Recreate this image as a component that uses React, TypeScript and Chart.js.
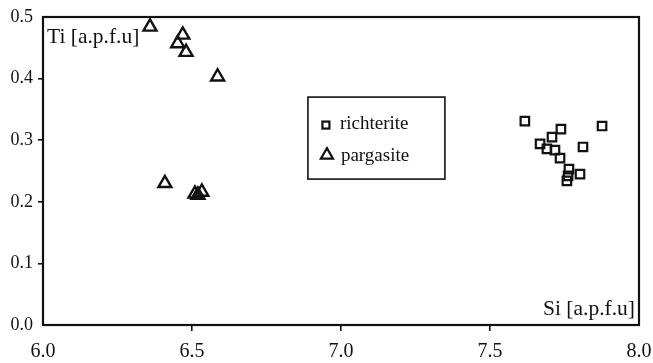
import React, { useEffect, useRef } from "react";
import { Chart, registerables } from "chart.js";

Chart.register(...registerables);

const richteriteSi = [7.617, 7.738, 7.708, 7.876, 7.668, 7.691, 7.718, 7.735, 7.812, 7.765, 7.802, 7.758, 7.762];
const richteriteTi = [0.331, 0.318, 0.305, 0.323, 0.294, 0.286, 0.284, 0.271, 0.289, 0.253, 0.245, 0.234, 0.242];

const pargasiteSi = [6.359, 6.469, 6.452, 6.48, 6.586, 6.409, 6.51, 6.533, 6.52];
const pargasiteTi = [0.484, 0.471, 0.457, 0.443, 0.403, 0.23, 0.213, 0.216, 0.211];

const xTicks = [6.0, 6.5, 7.0, 7.5, 8.0];
const yTicks = [0.0, 0.1, 0.2, 0.3, 0.4, 0.5];

const seriesNames = ["richterite", "pargasite"];
const xTitle = "Si [a.p.f.u]";
const yTitle = "Ti [a.p.f.u]";

const SERIF = '"Liberation Serif", "Times New Roman", serif';
const INK = "#111111";

function toPoints(xs: number[], ys: number[]) {
  return xs.map((x, i) => ({ x, y: ys[i] }));
}

const overlayPlugin = {
  id: "overlay",
  afterDraw(chart: any) {
    const ctx = chart.ctx;
    const a = chart.chartArea;
    ctx.save();
    // frame
    ctx.strokeStyle = INK;
    ctx.lineWidth = 2.2;
    ctx.strokeRect(a.left, a.top, a.right - a.left, a.bottom - a.top);

    // axis titles inside plot
    ctx.fillStyle = INK;
    ctx.font = `21.5px ${SERIF}`;
    ctx.textBaseline = "alphabetic";
    ctx.textAlign = "left";
    ctx.fillText(yTitle, a.left + 4, a.top + 26);
    ctx.textAlign = "right";
    ctx.fillText(xTitle, a.right - 4, a.bottom - 10);

    // legend box
    const xs = chart.scales.x;
    const ys = chart.scales.y;
    const bx = xs.getPixelForValue(6.889);
    const by = ys.getPixelForValue(0.37);
    const bw = 137;
    const bh = 82;
    ctx.lineWidth = 1.6;
    ctx.strokeStyle = INK;
    ctx.strokeRect(bx, by, bw, bh);

    ctx.font = `19px ${SERIF}`;
    ctx.textAlign = "left";
    // richterite marker
    ctx.lineWidth = 2.2;
    const s = 7;
    const mx = bx + 18;
    const my1 = by + 28;
    ctx.strokeRect(mx - s / 2, my1 - s / 2, s, s);
    ctx.fillText(seriesNames[0], bx + 32, by + 32);
    // pargasite marker
    const my2 = by + 58;
    const r = 7;
    ctx.beginPath();
    ctx.moveTo(mx + 1, my2 - r);
    ctx.lineTo(mx + 1 + r * 0.866, my2 + r * 0.5);
    ctx.lineTo(mx + 1 - r * 0.866, my2 + r * 0.5);
    ctx.closePath();
    ctx.stroke();
    ctx.fillText(seriesNames[1], bx + 33, by + 64);
    ctx.restore();
  },
};

export default function App() {
  const ref = useRef<HTMLCanvasElement>(null);
  useEffect(() => {
    if (!ref.current) return;
    const chart = new Chart(ref.current, {
      type: "scatter",
      data: {
        datasets: [
          {
            label: seriesNames[0],
            data: toPoints(richteriteSi, richteriteTi),
            pointStyle: "rect",
            pointRadius: 6,
            pointBorderWidth: 2.2,
            borderColor: INK,
            backgroundColor: "rgba(255,255,255,0)",
          },
          {
            label: seriesNames[1],
            data: toPoints(pargasiteSi, pargasiteTi),
            pointStyle: "triangle",
            pointRadius: 7.5,
            pointBorderWidth: 2.4,
            borderColor: INK,
            backgroundColor: "rgba(255,255,255,0)",
          },
        ],
      },
      options: {
        responsive: false,
        animation: false,
        layout: { padding: { left: 0, top: 17, right: 14, bottom: 0 } },
        plugins: {
          legend: { display: false },
          tooltip: { enabled: false },
        },
        scales: {
          x: {
            type: "linear",
            min: 6,
            max: 8,
            afterFit: (scale: any) => {
              scale.height = 38;
              scale.paddingLeft = 0;
              scale.paddingRight = 0;
            },
            afterBuildTicks: (scale: any) => {
              scale.ticks = xTicks.map((v) => ({ value: v }));
            },
            ticks: {
              color: INK,
              font: { family: SERIF, size: 20 },
              padding: 9,
              maxRotation: 0,
              callback: (v: any) => Number(v).toFixed(1),
            },
            grid: {
              drawOnChartArea: false,
              drawTicks: true,
              tickLength: 6,
              lineWidth: 1.6,
              color: (c: any) =>
                c.index === 0 || c.index === xTicks.length - 1 ? "rgba(0,0,0,0)" : INK,
            },
            border: { display: false },
          },
          y: {
            type: "linear",
            min: 0,
            max: 0.5,
            afterFit: (scale: any) => {
              scale.width = 43;
              scale.paddingTop = 0;
              scale.paddingBottom = 0;
            },
            afterBuildTicks: (scale: any) => {
              scale.ticks = yTicks.map((v) => ({ value: v }));
            },
            ticks: {
              color: INK,
              font: { family: SERIF, size: 18 },
              padding: 5,
              callback: (v: any) => Number(v).toFixed(1),
            },
            grid: {
              drawOnChartArea: false,
              drawTicks: true,
              tickLength: 5,
              lineWidth: 1.6,
              color: (c: any) =>
                c.index === 0 || c.index === yTicks.length - 1 ? "rgba(0,0,0,0)" : INK,
            },
            border: { display: false },
          },
        },
      },
      plugins: [overlayPlugin],
    });
    return () => chart.destroy();
  }, []);

  return (
    <div style={{ position: "fixed", left: 0, top: 0, width: 653, height: 363, background: "#fff" }}>
      <canvas ref={ref} width={653} height={363} style={{ display: "block" }} />
    </div>
  );
}
